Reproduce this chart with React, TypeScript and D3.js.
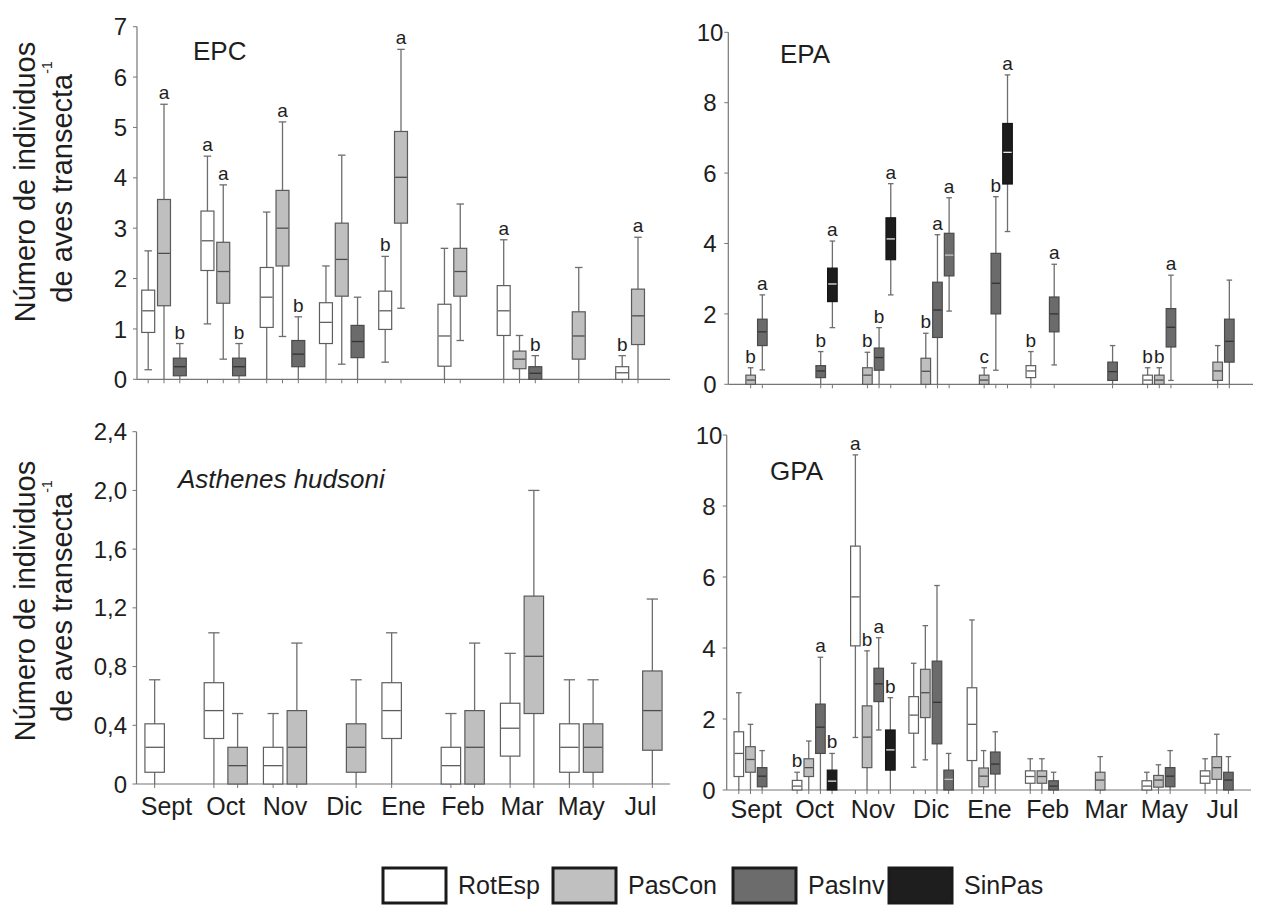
import React from "react";
import * as d3 from "d3";

type Box = [number, number, number, number, number] | null;

const FONT = "'Liberation Sans', Arial, Helvetica, sans-serif";

const months = ["Sept", "Oct", "Nov", "Dic", "Ene", "Feb", "Mar", "May", "Jul"];
const legendNames = ["RotEsp", "PasCon", "PasInv", "SinPas"];

// ---------- EPC ----------
const epcRotEsp: Box[] = [
  [0.19, 0.93, 1.36, 1.77, 2.55],
  [1.1, 2.16, 2.75, 3.34, 4.43],
  [0, 1.03, 1.63, 2.22, 3.32],
  [0, 0.71, 1.13, 1.52, 2.25],
  [0.34, 0.99, 1.36, 1.75, 2.44],
  [0, 0.26, 0.86, 1.49, 2.6],
  [0, 0.87, 1.36, 1.86, 2.77],
  null,
  [0, 0, 0.13, 0.25, 0.47],
];
const epcRotEspSig = ["", "a", "", "", "b", "", "a", "", "b"];
const epcPasCon: Box[] = [
  [0, 1.46, 2.5, 3.57, 5.46],
  [0.4, 1.51, 2.14, 2.72, 3.86],
  [0.85, 2.25, 3.0, 3.75, 5.11],
  [0.3, 1.65, 2.38, 3.1, 4.45],
  [1.41, 3.1, 4.01, 4.92, 6.55],
  [0.77, 1.65, 2.14, 2.6, 3.48],
  [0, 0.21, 0.4, 0.56, 0.87],
  [0, 0.4, 0.86, 1.34, 2.22],
  [0, 0.69, 1.26, 1.79, 2.82],
];
const epcPasConSig = ["a", "a", "a", "", "a", "", "", "", "a"];
const epcPasInv: Box[] = [
  [0, 0.07, 0.25, 0.42, 0.71],
  [0, 0.07, 0.25, 0.42, 0.71],
  [0, 0.25, 0.5, 0.77, 1.24],
  [0, 0.43, 0.75, 1.07, 1.63],
  null,
  null,
  [0, 0, 0.12, 0.25, 0.47],
  null,
  null,
];
const epcPasInvSig = ["b", "b", "b", "", "", "", "b", "", ""];
const epcTicks = [0, 1, 2, 3, 4, 5, 6, 7];
const epcTickLabels = ["0", "1", "2", "3", "4", "5", "6", "7"];

// ---------- EPA ----------
const epaRotEsp: Box[] = [
  null, null, null, null, null,
  [0, 0.19, 0.38, 0.53, 0.93],
  null,
  [0, 0, 0.12, 0.26, 0.47],
  null,
];
const epaRotEspSig = ["", "", "", "", "", "b", "", "b", ""];
const epaPasCon: Box[] = [
  [0, 0, 0.12, 0.26, 0.47],
  null,
  [0, 0, 0.26, 0.47, 0.91],
  [0, 0, 0.37, 0.74, 1.45],
  [0, 0, 0.12, 0.26, 0.47],
  null,
  null,
  [0, 0, 0.12, 0.26, 0.47],
  [0, 0.11, 0.38, 0.63, 1.1],
];
const epaPasConSig = ["b", "", "b", "b", "c", "", "", "b", ""];
const epaPasInv: Box[] = [
  [0.41, 1.1, 1.49, 1.85, 2.54],
  [0, 0.19, 0.38, 0.53, 0.93],
  [0, 0.4, 0.76, 1.03, 1.61],
  [0, 1.33, 2.11, 2.9, 4.25],
  [0.4, 2.0, 2.87, 3.72, 5.33],
  [0.55, 1.49, 2.0, 2.48, 3.41],
  [0, 0.11, 0.36, 0.63, 1.1],
  [0.11, 1.06, 1.62, 2.15, 3.1],
  [0, 0.63, 1.22, 1.85, 2.96],
];
const epaPasInvSig = ["a", "b", "b", "a", "b", "a", "", "a", ""];
const epaSinPas: Box[] = [
  null,
  [1.61, 2.35, 2.85, 3.3, 4.07],
  [2.54, 3.54, 4.13, 4.73, 5.7],
  [2.08, 3.08, 3.67, 4.29, 5.3],
  [4.34, 5.69, 6.59, 7.41, 8.79],
  null, null, null, null,
];
const epaSinPasSig = ["", "a", "a", "a", "a", "", "", "", ""];
const tenTicks = [0, 2, 4, 6, 8, 10];
const tenTickLabels = ["0", "2", "4", "6", "8", "10"];

// ---------- Asthenes hudsoni ----------
const ahRotEsp: Box[] = [
  [0, 0.08, 0.25, 0.41, 0.71],
  [0, 0.31, 0.5, 0.69, 1.03],
  [0, 0, 0.125, 0.25, 0.48],
  null,
  [0, 0.31, 0.5, 0.69, 1.03],
  [0, 0, 0.125, 0.25, 0.48],
  [0, 0.19, 0.38, 0.55, 0.89],
  [0, 0.08, 0.25, 0.41, 0.71],
  null,
];
const ahPasCon: Box[] = [
  null,
  [0, 0, 0.125, 0.25, 0.48],
  [0, 0, 0.25, 0.5, 0.96],
  [0, 0.08, 0.25, 0.41, 0.71],
  null,
  [0, 0, 0.25, 0.5, 0.96],
  [0, 0.48, 0.87, 1.28, 2.0],
  [0, 0.08, 0.25, 0.41, 0.71],
  [0, 0.23, 0.5, 0.77, 1.26],
];
const noSig = ["", "", "", "", "", "", "", "", ""];
const ahTicks = [0, 0.4, 0.8, 1.2, 1.6, 2.0, 2.4];
const ahTickLabels = ["0", "0,4", "0,8", "1,2", "1,6", "2,0", "2,4"];

// ---------- GPA ----------
const gpaRotEsp: Box[] = [
  [0, 0.38, 1.03, 1.64, 2.74],
  [0, 0, 0.11, 0.27, 0.5],
  [1.48, 4.06, 5.44, 6.87, 9.44],
  [0.64, 1.6, 2.11, 2.63, 3.57],
  [0, 0.83, 1.85, 2.88, 4.79],
  [0, 0.19, 0.38, 0.54, 0.88],
  null,
  [0, 0, 0.11, 0.26, 0.5],
  [0, 0.19, 0.39, 0.54, 0.88],
];
const gpaRotEspSig = ["", "b", "a", "", "", "", "", "", ""];
const gpaPasCon: Box[] = [
  [0, 0.5, 0.86, 1.22, 1.85],
  [0, 0.38, 0.63, 0.88, 1.38],
  [0, 0.63, 1.49, 2.37, 3.92],
  [0.85, 2.04, 2.74, 3.4, 4.63],
  [0, 0.09, 0.39, 0.62, 1.11],
  [0, 0.19, 0.38, 0.54, 0.88],
  [0, 0, 0.28, 0.5, 0.94],
  [0, 0.08, 0.28, 0.41, 0.71],
  [0, 0.3, 0.63, 0.94, 1.57],
];
const gpaPasConSig = ["", "", "b", "", "", "", "", "", ""];
const gpaPasInv: Box[] = [
  [0, 0.09, 0.39, 0.63, 1.11],
  [0, 1.03, 1.77, 2.42, 3.74],
  [1.69, 2.49, 2.99, 3.43, 4.29],
  [0, 1.3, 2.47, 3.63, 5.76],
  [0, 0.45, 0.73, 1.07, 1.64],
  [0, 0, 0.11, 0.26, 0.5],
  null,
  [0, 0.09, 0.39, 0.63, 1.11],
  [0, 0, 0.28, 0.5, 0.94],
];
const gpaPasInvSig = ["", "a", "a", "", "", "", "", "", ""];
const gpaSinPas: Box[] = [
  null,
  [0, 0, 0.25, 0.56, 1.03],
  [0, 0.56, 1.13, 1.69, 2.6],
  [0, 0, 0.3, 0.56, 1.03],
  null, null, null, null, null,
];
const gpaSinPasSig = ["", "b", "b", "", "", "", "", "", ""];

// ---------- styles ----------
const seriesStyle: Record<string, { fill: string; stroke: string; median: string }> = {
  RotEsp: { fill: "#ffffff", stroke: "#5e5e5e", median: "#5e5e5e" },
  PasCon: { fill: "#bfbfbf", stroke: "#5a5a5a", median: "#4e4e4e" },
  PasInv: { fill: "#6b6b6b", stroke: "#4a4a4a", median: "#333333" },
  SinPas: { fill: "#1c1c1c", stroke: "#151515", median: "#e6e6e6" },
};
const grayOverride = { fill: "#6b6b6b", stroke: "#4a4a4a", median: "#c4c4c4" };
const grayOverrideKeys = new Set(["EPA|Dic|SinPas", "GPA|Dic|SinPas"]);
const legendFill: Record<string, string> = {
  RotEsp: "#ffffff",
  PasCon: "#c0c0c0",
  PasInv: "#6c6c6c",
  SinPas: "#1e1e1e",
};

type Series = { name: string; data: Box[]; sig: string[] };
type PanelDef = {
  key: string;
  title: string;
  italic: boolean;
  series: Series[];
  ticks: number[];
  tickLabels: string[];
  max: number;
  axisX: number;
  xEnd: number;
  yBottom: number;
  yTop: number;
  monthRange: [number, number];
  titleX: number;
  titleY: number;
  showMonths: boolean;
  monthY: number;
  labelX: number;
  labelAnchor: "end" | "middle";
};

const panels: PanelDef[] = [
  {
    key: "EPC", title: "EPC", italic: false,
    series: [
      { name: "RotEsp", data: epcRotEsp, sig: epcRotEspSig },
      { name: "PasCon", data: epcPasCon, sig: epcPasConSig },
      { name: "PasInv", data: epcPasInv, sig: epcPasInvSig },
    ],
    ticks: epcTicks, tickLabels: epcTickLabels, max: 7,
    axisX: 137, xEnd: 670, yBottom: 379.3, yTop: 26.7,
    monthRange: [164, 638], titleX: 193, titleY: 60, showMonths: false, monthY: 0,
    labelX: 127, labelAnchor: "end",
  },
  {
    key: "EPA", title: "EPA", italic: false,
    series: [
      { name: "RotEsp", data: epaRotEsp, sig: epaRotEspSig },
      { name: "PasCon", data: epaPasCon, sig: epaPasConSig },
      { name: "PasInv", data: epaPasInv, sig: epaPasInvSig },
      { name: "SinPas", data: epaSinPas, sig: epaSinPasSig },
    ],
    ticks: tenTicks, tickLabels: tenTickLabels, max: 10,
    axisX: 728.3, xEnd: 1253, yBottom: 384.3, yTop: 32.3,
    monthRange: [756.5, 1223.5], titleX: 780, titleY: 63, showMonths: false, monthY: 0,
    labelX: 710, labelAnchor: "middle",
  },
  {
    key: "AH", title: "Asthenes hudsoni", italic: true,
    series: [
      { name: "RotEsp", data: ahRotEsp, sig: noSig },
      { name: "PasCon", data: ahPasCon, sig: noSig },
    ],
    ticks: ahTicks, tickLabels: ahTickLabels, max: 2.4,
    axisX: 136.5, xEnd: 670, yBottom: 784, yTop: 431.7,
    monthRange: [166.5, 640.5], titleX: 178, titleY: 488, showMonths: true, monthY: 815,
    labelX: 127, labelAnchor: "end",
  },
  {
    key: "GPA", title: "GPA", italic: false,
    series: [
      { name: "RotEsp", data: gpaRotEsp, sig: gpaRotEspSig },
      { name: "PasCon", data: gpaPasCon, sig: gpaPasConSig },
      { name: "PasInv", data: gpaPasInv, sig: gpaPasInvSig },
      { name: "SinPas", data: gpaSinPas, sig: gpaSinPasSig },
    ],
    ticks: tenTicks, tickLabels: tenTickLabels, max: 10,
    axisX: 726.7, xEnd: 1251, yBottom: 790, yTop: 435,
    monthRange: [756.3, 1222.6], titleX: 770, titleY: 480, showMonths: true, monthY: 818,
    labelX: 709, labelAnchor: "middle",
  },
];

const AXIS = "#767676";
const WHISK = "#6e6e6e";
const TEXT = "#1e1e1e";

function Panel({ p }: { p: PanelDef }) {
  const y = d3.scaleLinear().domain([0, p.max]).range([p.yBottom, p.yTop]);
  const xm = d3.scalePoint<string>().domain(months).range(p.monthRange);
  const groupW = xm.step() * 0.8;
  const inner = d3
    .scaleBand<string>()
    .domain(p.series.map((s) => s.name))
    .range([-groupW / 2, groupW / 2])
    .paddingInner(0.18)
    .paddingOuter(0.09);
  const bw = inner.bandwidth();
  const capW = bw * 0.58;
  const y0 = y(0);

  const marks: React.ReactNode[] = [];
  const xticks: React.ReactNode[] = [];
  p.series.forEach((s) => {
    s.data.forEach((b, i) => {
      if (!b) return;
      const m = months[i];
      const cx = (xm(m) as number) + (inner(s.name) as number) + bw / 2;
      const ov = grayOverrideKeys.has(`${p.key}|${m}|${s.name}`);
      const st = ov ? grayOverride : seriesStyle[s.name];
      const [mn, q1, md, q3, mx] = b;
      const k = `${s.name}-${m}`;
      xticks.push(<line key={"xt" + k} x1={cx} x2={cx} y1={y0} y2={y0 + 4} stroke={AXIS} strokeWidth={1} />);
      marks.push(
        <g key={k}>
          <line x1={cx} x2={cx} y1={y(mn)} y2={y(mx)} stroke={WHISK} strokeWidth={1.3} />
          <line x1={cx - capW / 2} x2={cx + capW / 2} y1={y(mx)} y2={y(mx)} stroke={WHISK} strokeWidth={1.3} />
          {mn > 0 && (
            <line x1={cx - capW / 2} x2={cx + capW / 2} y1={y(mn)} y2={y(mn)} stroke={WHISK} strokeWidth={1.3} />
          )}
          <rect
            x={cx - bw / 2}
            y={y(q3)}
            width={bw}
            height={Math.max(0.5, y(q1) - y(q3))}
            fill={st.fill}
            stroke={st.stroke}
            strokeWidth={1.2}
          />
          <line x1={cx - bw / 2 + 0.6} x2={cx + bw / 2 - 0.6} y1={y(md)} y2={y(md)} stroke={st.median} strokeWidth={1.3} />
          {s.sig[i] && (
            <text x={cx} y={y(mx) - 5} textAnchor="middle" fontSize={19} fill={TEXT}>
              {s.sig[i]}
            </text>
          )}
        </g>
      );
    });
  });

  return (
    <g>
      <line x1={p.axisX} x2={p.axisX} y1={y0} y2={y(p.max)} stroke={AXIS} strokeWidth={1.2} />
      {p.ticks.map((t, i) => (
        <g key={"yt" + i}>
          <line x1={p.axisX - 4} x2={p.axisX} y1={y(t)} y2={y(t)} stroke={AXIS} strokeWidth={1} />
          <text
            x={p.labelX}
            y={y(t)}
            dy="0.36em"
            textAnchor={p.labelAnchor}
            fontSize={24}
            fill={TEXT}
          >
            {p.tickLabels[i]}
          </text>
        </g>
      ))}
      <line x1={p.axisX} x2={p.xEnd} y1={y0} y2={y0} stroke={AXIS} strokeWidth={1.2} />
      {xticks}
      {marks}
      <text
        x={p.titleX}
        y={p.titleY}
        fontSize={26}
        fontStyle={p.italic ? "italic" : "normal"}
        fill={TEXT}
      >
        {p.title}
      </text>
      {p.showMonths &&
        months.map((m) => (
          <text key={"m" + m} x={xm(m) as number} y={p.monthY} textAnchor="middle" fontSize={25} fill={TEXT}>
            {m}
          </text>
        ))}
    </g>
  );
}

function YTitle({ cy }: { cy: number }) {
  return (
    <g>
      <text transform={`translate(35,${cy}) rotate(-90)`} textAnchor="middle" fontSize={29} fill={TEXT}>
        Número de individuos
      </text>
      <text transform={`translate(72,${cy}) rotate(-90)`} textAnchor="middle" fontSize={29} fill={TEXT}>
        de aves transecta
        <tspan fontSize={14} dy={-20}>-1</tspan>
      </text>
    </g>
  );
}

const legendX = [383, 553, 733, 889];

export default function App() {
  return (
    <svg
      width={1262}
      height={906}
      style={{ position: "absolute", left: 0, top: 0, fontFamily: FONT }}
    >
      <rect width={1262} height={906} fill="#ffffff" />
      {panels.map((p) => (
        <Panel key={p.key} p={p} />
      ))}
      <YTitle cy={182} />
      <YTitle cy={601} />
      {legendNames.map((n, i) => (
        <g key={"lg" + n}>
          <rect x={legendX[i]} y={868} width={63} height={35} fill={legendFill[n]} stroke="#1a1a1a" strokeWidth={3} />
          <text x={legendX[i] + 75} y={894} fontSize={25} fill={TEXT}>
            {n}
          </text>
        </g>
      ))}
    </svg>
  );
}
